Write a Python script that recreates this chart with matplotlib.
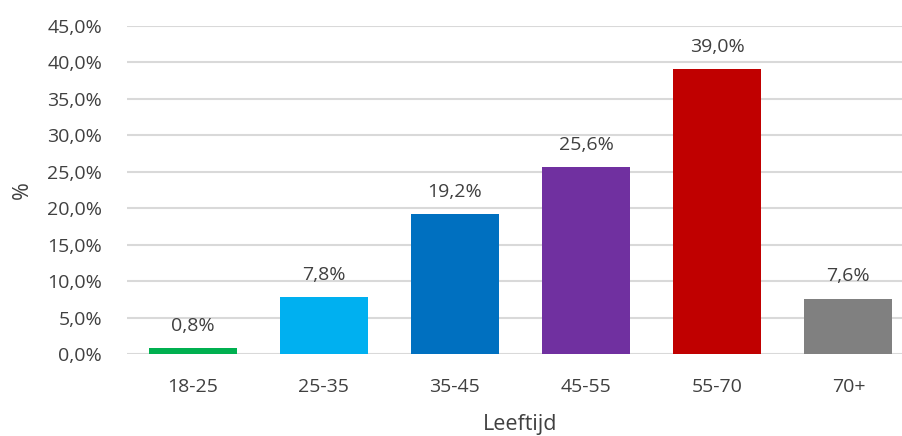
import matplotlib
matplotlib.use("Agg")
import matplotlib.pyplot as plt

# data
categories = ["18-25", "25-35", "35-45", "45-55", "55-70", "70+"]
values = [0.8, 7.8, 19.2, 25.6, 39.0, 7.6]
bar_colors = ["#00B050", "#00B0F0", "#0070C0", "#7030A0", "#C00000", "#808080"]
y_ticks = [0, 5, 10, 15, 20, 25, 30, 35, 40, 45]

plt.rcParams['font.family'] = ['Open Sans', 'DejaVu Sans']
txt = "#404040"

fig = plt.figure(figsize=(9.02, 4.36), dpi=100)
ax = fig.add_axes([127 / 902, 82 / 436, 787 / 902, 328.3 / 436])

x = range(len(categories))
ax.bar(x, values, width=0.67, color=bar_colors, zorder=3)

for i, v in enumerate(values):
    ax.annotate(f"{v:.1f}%".replace(".", ","), (i, v), xytext=(0, 9.5),
                textcoords="offset points", ha="center", va="bottom",
                fontsize=14, color=txt)

ax.set_xlim(-0.5, len(categories) - 0.5)
ax.set_ylim(0, 45)
ax.set_yticks(y_ticks)
ax.set_yticklabels([f"{t:.1f}%".replace(".", ",") for t in y_ticks])
ax.set_xticks(list(x))
ax.set_xticklabels(categories)
ax.tick_params(axis="both", length=0, labelsize=14, labelcolor=txt)
ax.tick_params(axis="x", pad=17)
ax.tick_params(axis="y", pad=18)

ax.grid(axis="y", color="#D9D9D9", linewidth=1.5, zorder=0)
for s in ax.spines.values():
    s.set_visible(False)

ax.set_xlabel("Leeftijd", fontsize=15.5, color=txt, labelpad=13)
ax.set_ylabel("%", fontsize=15.5, color=txt, labelpad=10)

fig.savefig("out.png", dpi=100)
